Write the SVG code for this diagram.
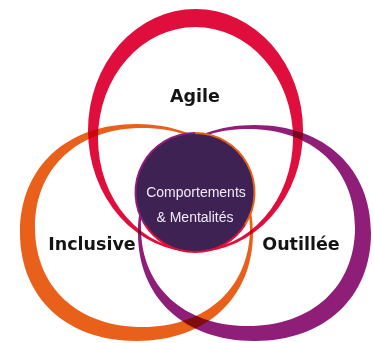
<svg xmlns="http://www.w3.org/2000/svg" width="374" height="343" viewBox="0 0 374 343">
  <style>
    .ring { fill-rule: evenodd; mix-blend-mode: multiply; }
    .rim { fill: none; stroke-width: 2; }
    .label { font-family: "DejaVu Sans", "Liberation Sans", sans-serif; font-weight: bold; font-size: 17.5px; fill: #141414; text-anchor: middle; }
    .core { font-family: "Liberation Sans", Arial, sans-serif; font-size: 14px; fill: #F2EAF6; text-anchor: middle; }
  </style>
  <rect width="374" height="343" fill="#FFFFFF"/>

  <!-- three crescent rings: outer outline minus an offset inner outline -->
  <g id="agile">
    <path class="ring" fill="#E00E3C" d="M88,130.5 a107.5,121.5 0 1,0 215,0 a107.5,121.5 0 1,0 -215,0 Z M98,138.5 a97.5,111.5 0 1,0 195,0 a97.5,111.5 0 1,0 -195,0 Z"/>
    <text class="label" x="195" y="102">Agile</text>
  </g>

  <g id="inclusive">
    <path class="ring" fill="#E8601A" d="M136.5,124 C206.4,124 253,167.4 253,232.5 C253,297.6 206.4,341 136.5,341 C66.6,341 20,297.6 20,232.5 C20,167.4 66.6,124 136.5,124 Z M142.5,128 C207,128 250,167.8 250,227.5 C250,287.2 207,327 142.5,327 C78,327 35,287.2 35,227.5 C35,167.8 78,128 142.5,128 Z"/>
    <text class="label" x="92" y="250">Inclusive</text>
  </g>

  <g id="outillee">
    <path class="ring" fill="#8E1E78" d="M254.5,125 C324.4,125 371,168.2 371,233 C371,297.8 324.4,341 254.5,341 C184.6,341 138,297.8 138,233 C138,168.2 184.6,125 254.5,125 Z M248,129 C312.2,129 355,168.4 355,227.5 C355,286.6 312.2,326 248,326 C183.8,326 141,286.6 141,227.5 C141,168.4 183.8,129 248,129 Z"/>
    <text class="label" x="301" y="250">Outillée</text>
  </g>

  <!-- shared centre disc, laid over the rings, rimmed by the three ring colours -->
  <g id="centre">
    <circle cx="195" cy="192.5" r="59.5" fill="#3E2254"/>
    <path class="rim" stroke="#E8601A" d="M195,133 A59.5,59.5 0 0,1 244.9,224.9"/>
    <path class="rim" stroke="#E00E3C" d="M244.9,224.9 A59.5,59.5 0 0,1 145.1,224.9"/>
    <path class="rim" stroke="#8E1E78" d="M145.1,224.9 A59.5,59.5 0 0,1 195,133"/>
    <text class="core" x="196" y="197">Comportements</text>
    <text class="core" x="195" y="222">&amp; Mentalités</text>
  </g>
</svg>
